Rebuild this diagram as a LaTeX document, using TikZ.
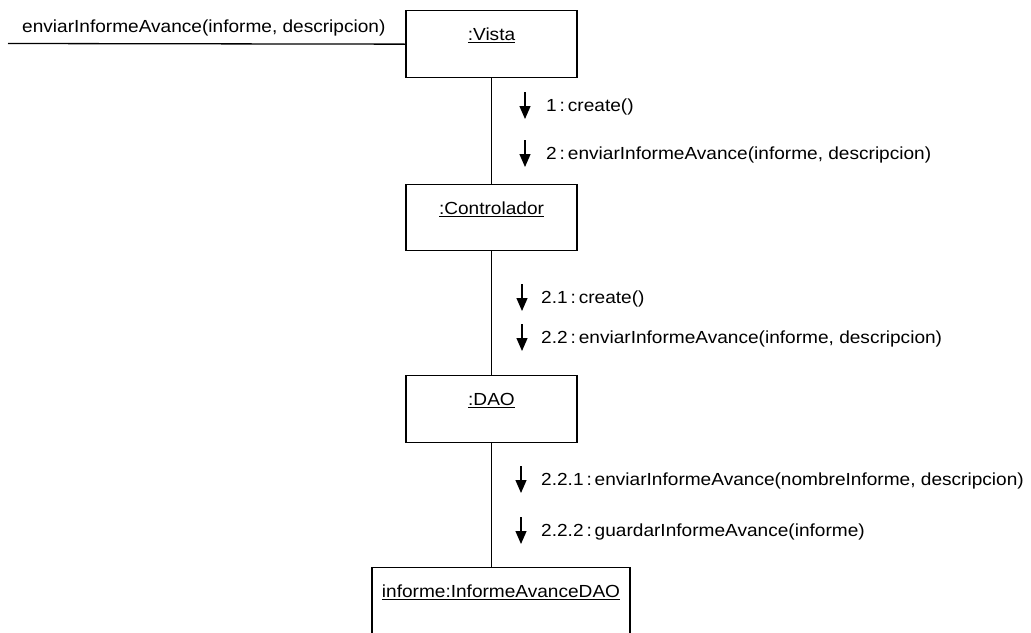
\documentclass[tikz,border=0pt]{standalone}
\usepackage{fontspec}
\setmainfont{Liberation Sans}[FakeStretch=1.09]
\usetikzlibrary{arrows.meta,calc}
\begin{document}
\begin{tikzpicture}[x=1pt,y=-1pt,
  font=\fontsize{17.5}{20}\selectfont,
  objbox/.style={draw, line width=1.3pt, minimum width=171pt,
    minimum height=67pt, anchor=north, inner sep=0pt},
  objname/.style={anchor=north, inner sep=0pt, yshift=-18pt},
  link/.style={line width=1.3pt},
  msg/.style={line width=1.3pt, -{Triangle[width=11pt,length=13pt]}},
  msgtext/.style={anchor=base west, inner sep=0pt}]
\useasboundingbox (0,0) rectangle (1031,632);

% objects
\node[objbox, label={[objname]north:\underline{:Vista}}] (vista) at (491.5,10) {};
\node[objbox, minimum height=66pt, label={[objname]north:\underline{:Controlador}}] (ctrl) at (491.5,184) {};
\node[objbox, label={[objname]north:\underline{:DAO}}] (dao) at (491.5,375) {};
\node[objbox, minimum width=258pt, minimum height=90pt,
  label={[objname]north:\underline{informe:InformeAvanceDAO}}] (inf) at (501,567) {};

% incoming message
\coordinate (src) at (8,43.5);
\draw[link] (src) -- (vista.west);
\node[msgtext] (m0) at (22,32) {enviarInformeAvance(informe, descripcion)};

% links
\draw[link] (vista.south) -- (ctrl.north);
\draw[link] (ctrl.south) -- (dao.north);
\draw[link] (dao.south) -- (dao.south |- inf.north);

% messages
\node[msgtext] (m1) at (546,111) {1\,:\,create()};
\node[msgtext] (m2) at (546,159) {2\,:\,enviarInformeAvance(informe, descripcion)};
\node[msgtext] (m3) at (541,303) {2.1\,:\,create()};
\node[msgtext] (m4) at (541,343) {2.2\,:\,enviarInformeAvance(informe, descripcion)};
\node[msgtext] (m5) at (541,485) {2.2.1\,:\,enviarInformeAvance(nombreInforme, descripcion)};
\node[msgtext] (m6) at (541,536) {2.2.2\,:\,guardarInformeAvance(informe)};

\foreach \m/\dx in {m1/-21,m2/-21,m3/-19,m4/-19,m5/-20,m6/-20}{
  \draw[msg] ($(\m.base west)+(\dx,-19)$) -- ($(\m.base west)+(\dx,8)$);
}
\end{tikzpicture}
\end{document}
